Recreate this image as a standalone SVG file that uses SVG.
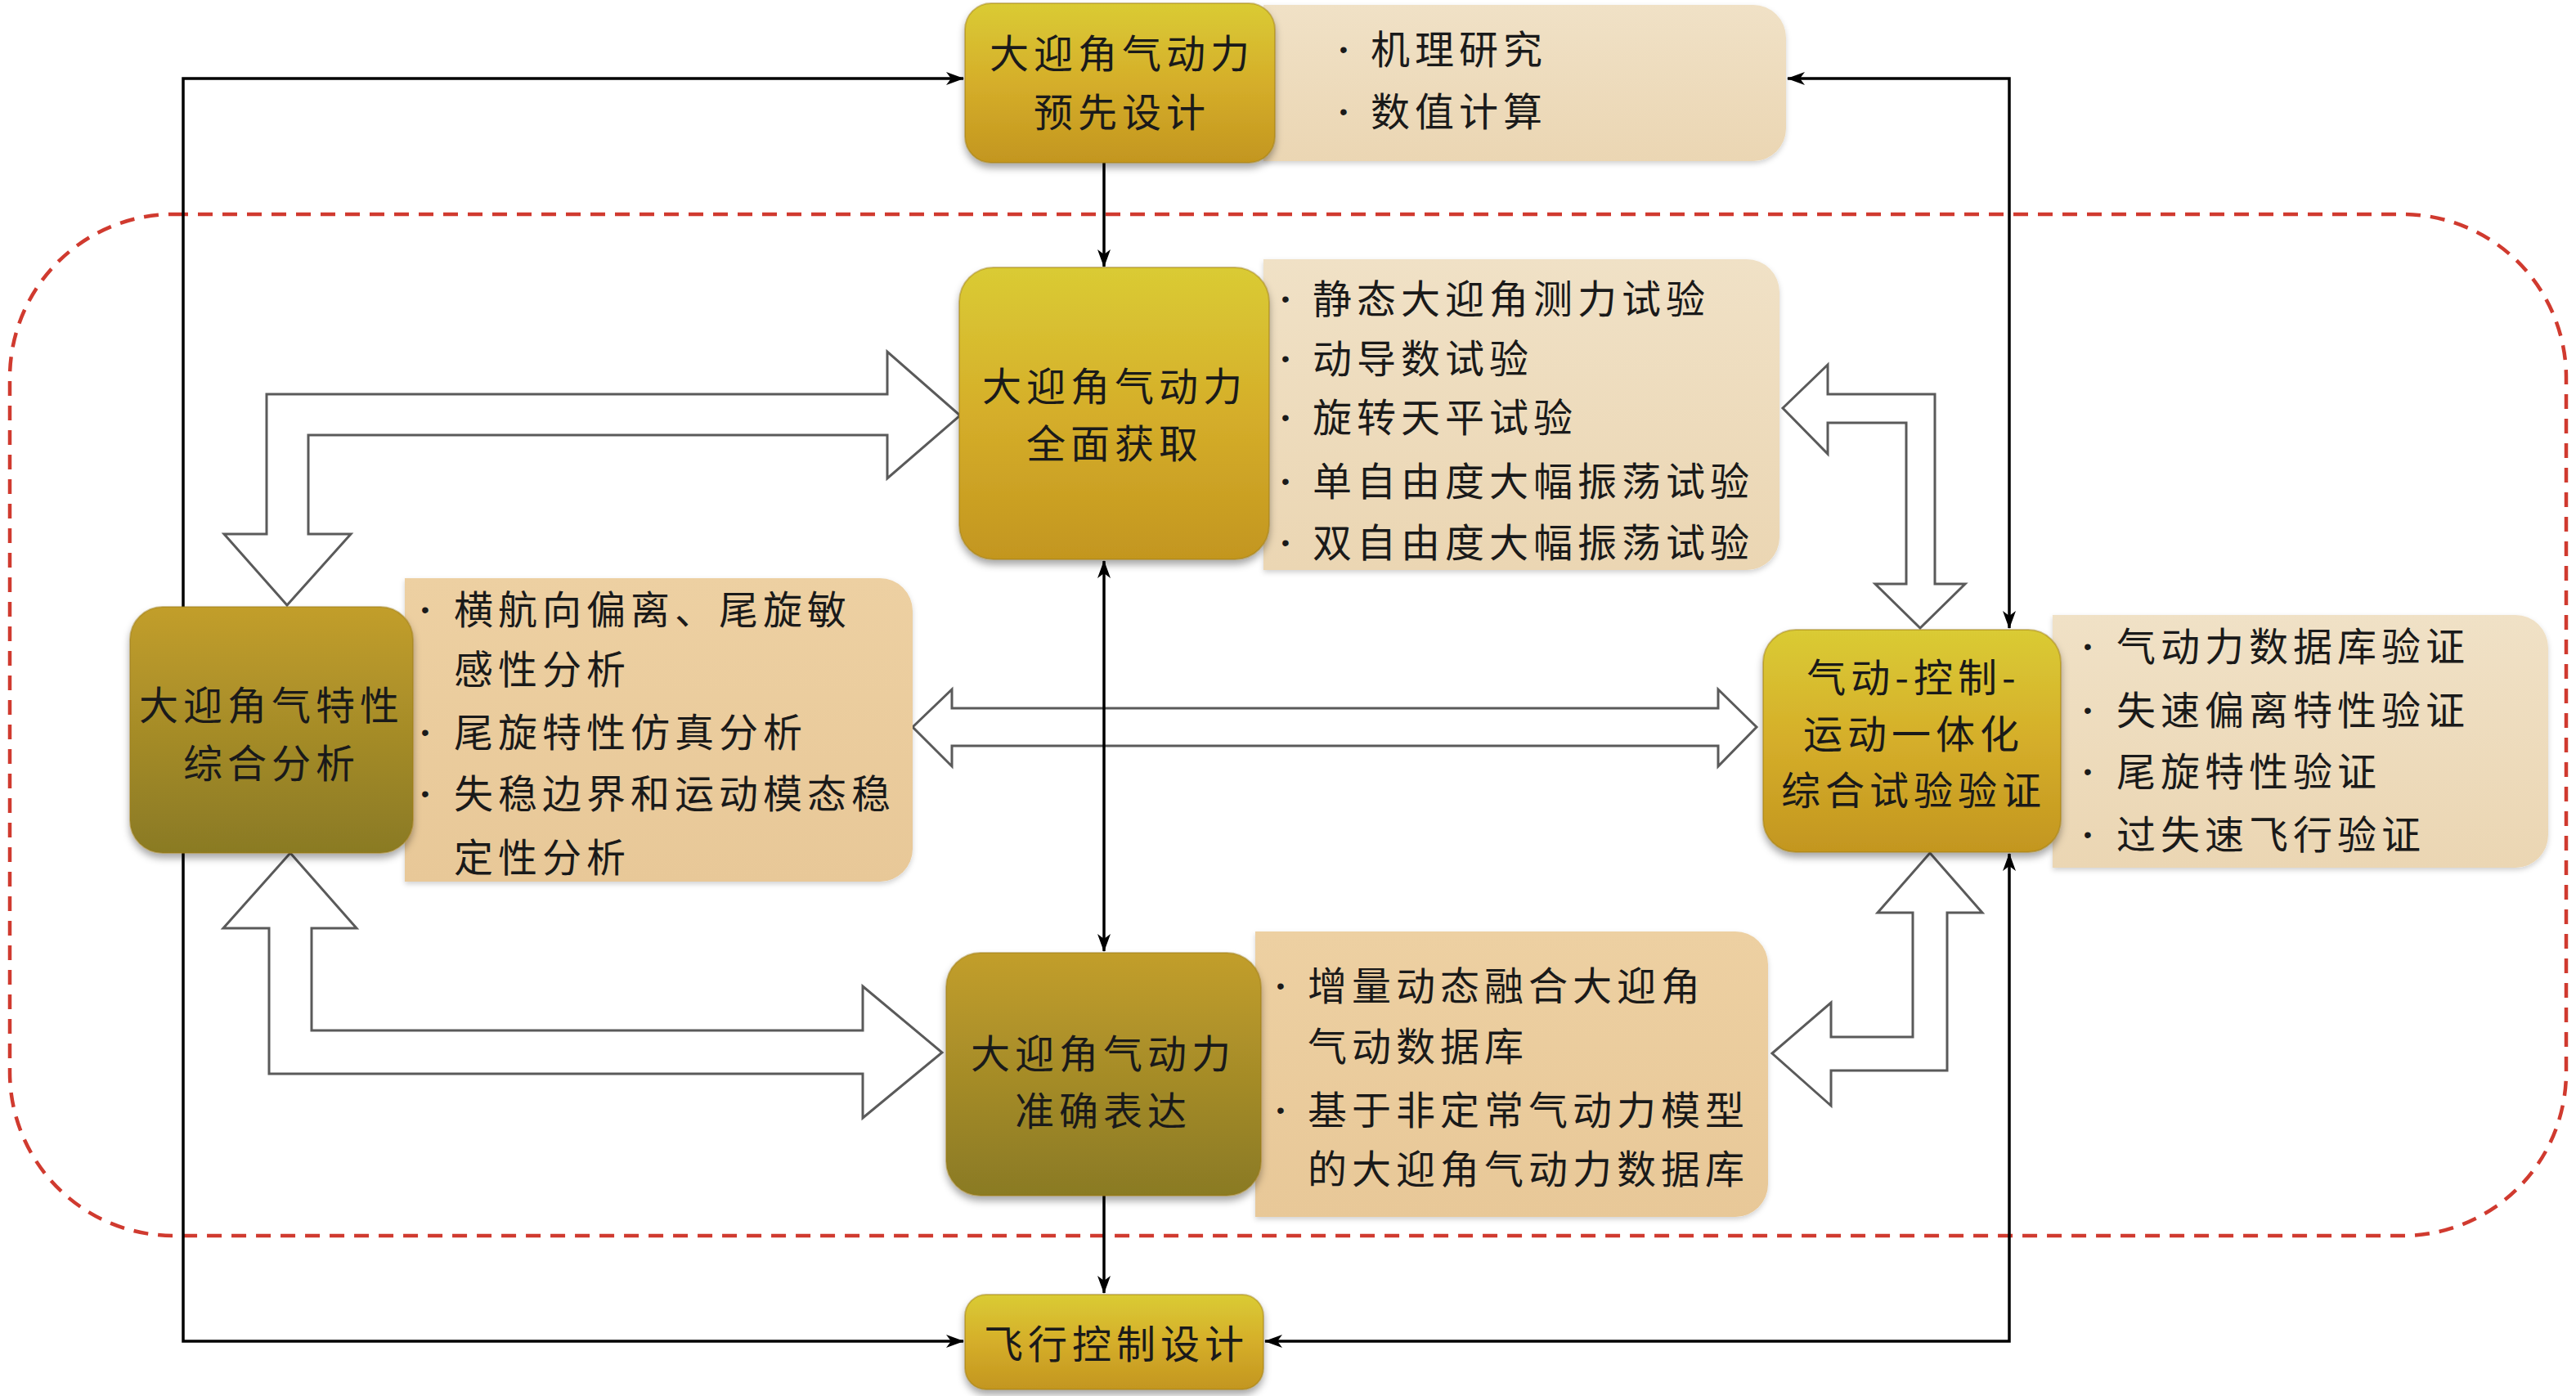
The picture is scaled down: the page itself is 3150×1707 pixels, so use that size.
<svg xmlns="http://www.w3.org/2000/svg" width="3150" height="1707" viewBox="0 0 3150 1707">
<style>
.nt{font-family:"Noto Sans CJK SC","Liberation Serif",serif;font-size:48px;letter-spacing:6px;fill:#1a1a1a;text-anchor:middle}
.it{font-family:"Noto Sans CJK SC","Liberation Serif",serif;font-size:48px;letter-spacing:6px;fill:#1a1a1a}
.bu{font-family:"Liberation Sans",sans-serif;font-size:28px;fill:#1a1a1a}
.blk{fill:#ffffff;stroke:#5a5a5a;stroke-width:3;stroke-linejoin:miter}
.ln{fill:none;stroke:#000;stroke-width:3.5}
.nb{stroke:#9c7a14;stroke-opacity:0.45;stroke-width:2}
</style>
<defs>
<linearGradient id="gB" x1="0" y1="0" x2="0" y2="1">
<stop offset="0" stop-color="#DACB34"/>
<stop offset="0.5" stop-color="#D5AE2A"/>
<stop offset="1" stop-color="#C3961F"/>
</linearGradient>
<linearGradient id="gD" x1="0" y1="0" x2="0" y2="1">
<stop offset="0" stop-color="#C29E2C"/>
<stop offset="1" stop-color="#8A7A24"/>
</linearGradient>
<linearGradient id="iL" x1="0" y1="0" x2="0" y2="1">
<stop offset="0" stop-color="#F0E1C6"/>
<stop offset="1" stop-color="#EBD6B3"/>
</linearGradient>
<linearGradient id="iT" x1="0" y1="0" x2="0" y2="1">
<stop offset="0" stop-color="#EDD0A2"/>
<stop offset="1" stop-color="#E8C898"/>
</linearGradient>
<filter id="sh" x="-10%" y="-10%" width="120%" height="125%">
<feDropShadow dx="0" dy="6" stdDeviation="5" flood-color="#000" flood-opacity="0.35"/>
</filter>
<filter id="sh2" x="-10%" y="-10%" width="120%" height="125%">
<feDropShadow dx="0" dy="3" stdDeviation="3" flood-color="#000" flood-opacity="0.18"/>
</filter>
<marker id="ah" viewBox="0 0 22 16" refX="21" refY="8" markerWidth="22" markerHeight="16" markerUnits="userSpaceOnUse" orient="auto-start-reverse">
<path d="M0,0 L22,8 L0,16 L6,8 z" fill="#000"/>
</marker>
</defs>
<rect width="3150" height="1707" fill="#ffffff"/>

<rect id="boundary" x="12" y="262" width="3126" height="1249" rx="200" ry="200" fill="none" stroke="#D03A2F" stroke-width="4.5" stroke-dasharray="18 12"/>

<g id="connectors">
<path class="blk" d="M326,482 H1085 V430 L1174,508 L1085,585 V532 H377 V653 H429 L351,740 L274,653 H326 Z"/>
<path class="blk" d="M329,1313 V1135 H273 L355,1043 L436,1135 H381 V1260 H1055 V1206 L1152,1287 L1055,1367 V1313 Z"/>
<path class="blk" d="M1116,889 L1164,843 V866 H2101 V843 L2148,889 L2101,937 V912 H1164 V937 Z"/>
<path class="blk" d="M2180,499 L2235,446 V482 H2366 V714 H2403 L2348,768 L2293,714 H2331 V517 H2235 V555 Z"/>
<path class="blk" d="M2167,1288 L2239,1226 V1268 H2339 V1116 H2296 L2360,1043 L2424,1116 H2381 V1309 H2239 V1352 Z"/>
<path class="ln" d="M224,742 V96 H1178" marker-end="url(#ah)"/>
<path class="ln" d="M224,1043 V1640 H1178" marker-end="url(#ah)"/>
<path class="ln" d="M2186,96 H2457 V768" marker-start="url(#ah)" marker-end="url(#ah)"/>
<path class="ln" d="M2457,1044 V1640 H1547" marker-start="url(#ah)" marker-end="url(#ah)"/>
<path class="ln" d="M1350,199 V326" marker-end="url(#ah)"/>
<path class="ln" d="M1350,686 V1163" marker-start="url(#ah)" marker-end="url(#ah)"/>
<path class="ln" d="M1350,1462 V1581" marker-end="url(#ah)"/>
</g>

<g id="n1">
<path d="M1545,6 H2144 A40,40 0 0 1 2184,46 V157 A40,40 0 0 1 2144,197 H1545 Z" fill="url(#iL)" filter="url(#sh2)"/>
<rect class="nb" x="1180" y="4" width="379" height="195" rx="32" fill="url(#gB)" filter="url(#sh)"/>
<text class="nt" x="1372" y="83">大迎角气动力</text>
<text class="nt" x="1372" y="155">预先设计</text>
<text class="bu" x="1638" y="70">•</text>
<text class="it" x="1676" y="78">机理研究</text>
<text class="bu" x="1638" y="146">•</text>
<text class="it" x="1676" y="154">数值计算</text>
</g>

<g id="n2">
<path d="M1545,317 H2136 A40,40 0 0 1 2176,357 V657 A40,40 0 0 1 2136,697 H1545 Z" fill="url(#iL)" filter="url(#sh2)"/>
<rect class="nb" x="1173" y="327" width="379" height="357" rx="42" fill="url(#gB)" filter="url(#sh)"/>
<text class="nt" x="1363" y="490">大迎角气动力</text>
<text class="nt" x="1363" y="560">全面获取</text>
<text class="bu" x="1567" y="375">•</text>
<text class="it" x="1605" y="383">静态大迎角测力试验</text>
<text class="bu" x="1567" y="448">•</text>
<text class="it" x="1605" y="456">动导数试验</text>
<text class="bu" x="1567" y="520">•</text>
<text class="it" x="1605" y="528">旋转天平试验</text>
<text class="bu" x="1567" y="598">•</text>
<text class="it" x="1605" y="606">单自由度大幅振荡试验</text>
<text class="bu" x="1567" y="673">•</text>
<text class="it" x="1605" y="681">双自由度大幅振荡试验</text>
</g>

<g id="n3">
<path d="M495,707 H1076 A40,40 0 0 1 1116,747 V1038 A40,40 0 0 1 1076,1078 H495 Z" fill="url(#iT)" filter="url(#sh2)"/>
<rect class="nb" x="159" y="742" width="346" height="301" rx="40" fill="url(#gD)" filter="url(#sh)"/>
<text class="nt" x="332" y="880">大迎角气特性</text>
<text class="nt" x="332" y="951">综合分析</text>
<text class="bu" x="515" y="755">•</text>
<text class="it" x="555" y="763">横航向偏离、尾旋敏</text>
<text class="it" x="555" y="836">感性分析</text>
<text class="bu" x="515" y="905">•</text>
<text class="it" x="555" y="913">尾旋特性仿真分析</text>
<text class="bu" x="515" y="980">•</text>
<text class="it" x="555" y="988">失稳边界和运动模态稳</text>
<text class="it" x="555" y="1066">定性分析</text>
</g>

<g id="n4">
<path d="M2510,752 H3076 A40,40 0 0 1 3116,792 V1021 A40,40 0 0 1 3076,1061 H2510 Z" fill="url(#iL)" filter="url(#sh2)"/>
<rect class="nb" x="2156" y="770" width="364" height="272" rx="40" fill="url(#gB)" filter="url(#sh)"/>
<text class="nt" x="2340" y="846">气动-控制-</text>
<text class="nt" x="2340" y="915">运动一体化</text>
<text class="nt" x="2340" y="984">综合试验验证</text>
<text class="bu" x="2548" y="800">•</text>
<text class="it" x="2588" y="808">气动力数据库验证</text>
<text class="bu" x="2548" y="878">•</text>
<text class="it" x="2588" y="886">失速偏离特性验证</text>
<text class="bu" x="2548" y="953">•</text>
<text class="it" x="2588" y="961">尾旋特性验证</text>
<text class="bu" x="2548" y="1030">•</text>
<text class="it" x="2588" y="1038">过失速飞行验证</text>
</g>

<g id="n5">
<path d="M1535,1139 H2122 A40,40 0 0 1 2162,1179 V1448 A40,40 0 0 1 2122,1488 H1535 Z" fill="url(#iT)" filter="url(#sh2)"/>
<rect class="nb" x="1157" y="1165" width="385" height="297" rx="42" fill="url(#gD)" filter="url(#sh)"/>
<text class="nt" x="1349" y="1306">大迎角气动力</text>
<text class="nt" x="1349" y="1376">准确表达</text>
<text class="bu" x="1561" y="1215">•</text>
<text class="it" x="1599" y="1223">增量动态融合大迎角</text>
<text class="it" x="1599" y="1297">气动数据库</text>
<text class="bu" x="1561" y="1367">•</text>
<text class="it" x="1599" y="1375">基于非定常气动力模型</text>
<text class="it" x="1599" y="1447">的大迎角气动力数据库</text>
</g>

<g id="n6">
<rect class="nb" x="1180" y="1583" width="365" height="116" rx="26" fill="url(#gB)" filter="url(#sh)"/>
<text class="nt" x="1365" y="1661">飞行控制设计</text>
</g>
</svg>
